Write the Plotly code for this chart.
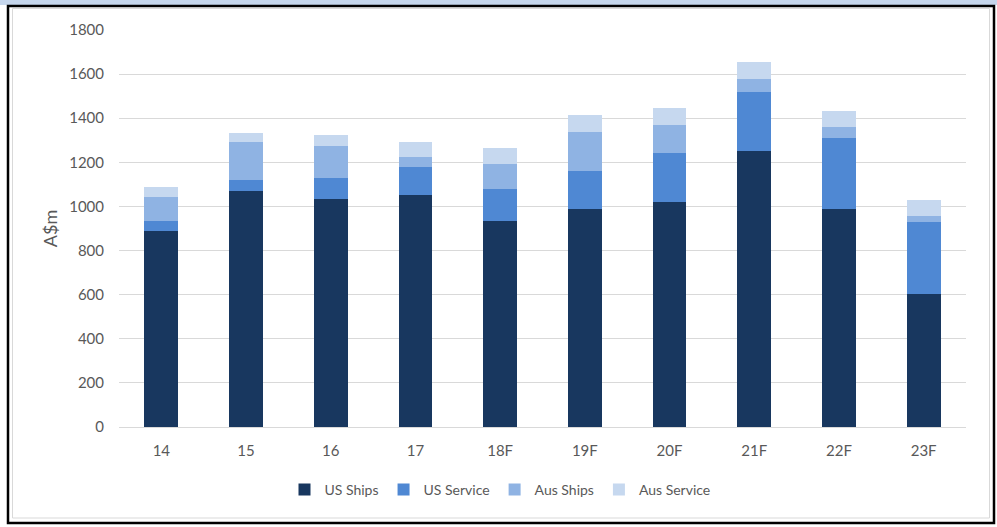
import plotly.graph_objects as go

categories = ["14", "15", "16", "17", "18F", "19F", "20F", "21F", "22F", "23F"]
us_ships = [890, 1072, 1035, 1052, 932, 988, 1020, 1252, 988, 604]
us_service = [42, 49, 96, 125, 147, 171, 222, 269, 322, 324]
aus_ships = [109, 173, 141, 47, 113, 178, 128, 57, 49, 27]
aus_service = [47, 38, 50, 66, 75, 78, 75, 77, 76, 75]

series = [
    ("US Ships", us_ships, "#18375f"),
    ("US Service", us_service, "#4f88d3"),
    ("Aus Ships", aus_ships, "#8fb3e3"),
    ("Aus Service", aus_service, "#c6d8ef"),
]

W, H = 997, 527
L, R, T, B = 119, 31, 30, 100
pw, ph = W - L - R, H - T - B

def px(x):
    return (x - L) / pw

def py(y):
    return (H - B - y) / ph

fig = go.Figure()
for name, vals, color in series:
    fig.add_trace(go.Bar(x=categories, y=vals, name=name, marker=dict(color=color, line=dict(width=0))))

font_family = "Lato, 'Open Sans', sans-serif"
fig.update_layout(
    width=W, height=H,
    margin=dict(l=L, r=R, t=T, b=B),
    barmode="stack",
    bargap=0.6,
    paper_bgcolor="white",
    plot_bgcolor="white",
    font=dict(family=font_family, size=15, color="#595959"),
    showlegend=True,
    legend=dict(
        orientation="h", x=px(500), xanchor="center", y=py(490), yanchor="middle",
        traceorder="normal", font=dict(size=14, color="#595959"),
        itemclick=False, itemwidth=30,
    ),
    xaxis=dict(
        showgrid=False, showline=True, linecolor="#d9d9d9", linewidth=1,
        ticks="", ticklabelstandoff=10, tickfont=dict(size=15, color="#595959"),
    ),
    yaxis=dict(
        range=[0, 1800], dtick=200, showgrid=True, gridcolor="#d9d9d9", gridwidth=1,
        zeroline=False, showline=False, ticks="", ticklabelstandoff=14,
        tickfont=dict(size=15, color="#595959"),
        title=dict(text="A$m", font=dict(size=18, color="#595959"), standoff=6),
    ),
    shapes=[
        dict(type="rect", xref="paper", yref="paper",
             x0=px(0), x1=px(W), y0=py(0), y1=py(5),
             fillcolor="#c5d6ec", line=dict(width=0), layer="below"),
        dict(type="rect", xref="paper", yref="paper",
             x0=px(8), x1=px(994), y0=py(6), y1=py(523),
             line=dict(color="black", width=2.5), layer="above"),
        dict(type="rect", xref="paper", yref="paper",
             x0=px(12.5), x1=px(989.5), y0=py(8.5), y1=py(518),
             line=dict(color="#d9d9d9", width=1), layer="below"),
    ],
)

fig.write_html("out.html", config={"displayModeBar": False},
               post_script="document.body.style.margin='0';document.body.style.overflow='hidden';")
